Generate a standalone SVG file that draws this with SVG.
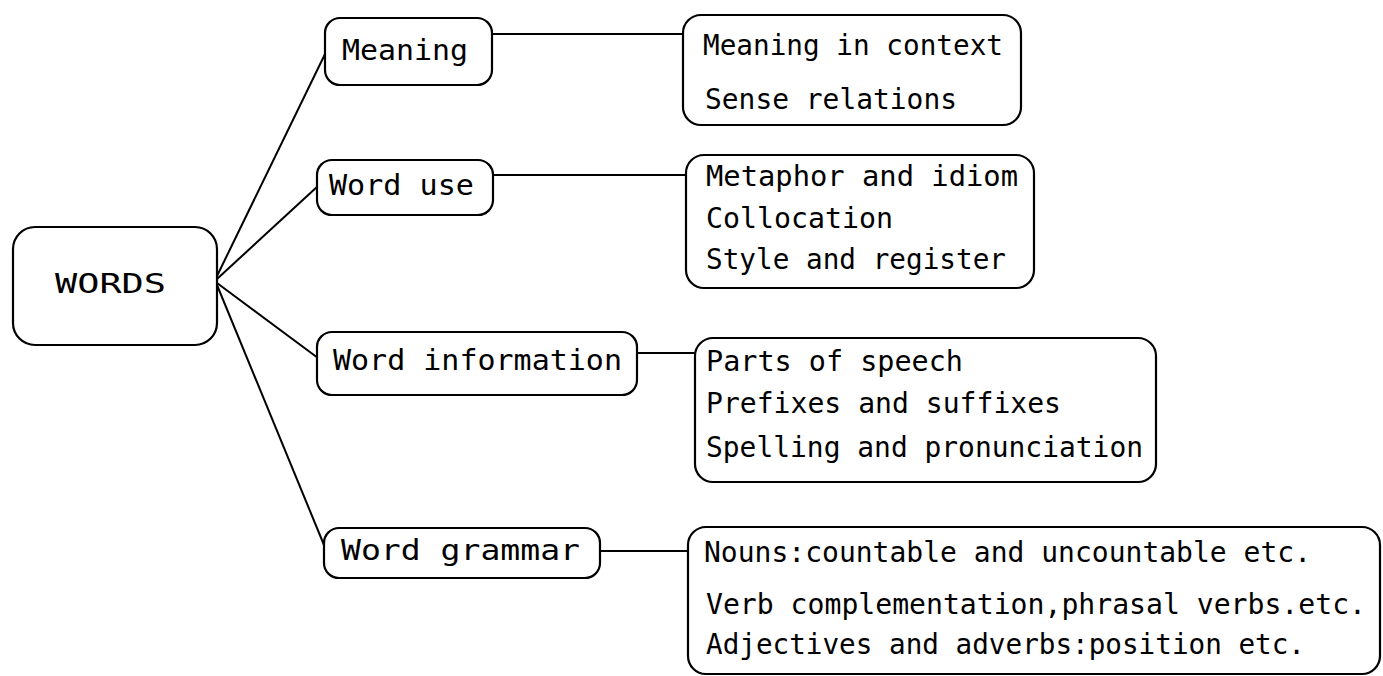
<svg xmlns="http://www.w3.org/2000/svg" width="1383" height="676" viewBox="0 0 1383 676">
<style>
.box{fill:#fff;stroke:#000;stroke-width:2.2}
.ln{stroke:#000;stroke-width:2;fill:none}
text{font-family:"DejaVu Sans Mono","Liberation Mono",monospace;font-size:29px;fill:#000}
</style>
<rect width="1383" height="676" fill="#fff"/>
<g id="connectors">
<line class="ln" x1="217" y1="276" x2="326" y2="52"/>
<line class="ln" x1="217" y1="279" x2="318" y2="186"/>
<line class="ln" x1="217" y1="283" x2="318" y2="358"/>
<line class="ln" x1="217" y1="285" x2="324" y2="545"/>
<line class="ln" x1="492" y1="34" x2="684" y2="34"/>
<line class="ln" x1="493" y1="175" x2="686" y2="175"/>
<line class="ln" x1="637" y1="353" x2="695" y2="353"/>
<line class="ln" x1="600" y1="551" x2="688" y2="551"/>
</g>
<g id="words">
<rect class="box" x="13" y="227" width="204" height="118" rx="22"/>
<text x="55" y="293" style="font-size:26px" textLength="111" lengthAdjust="spacingAndGlyphs">WORDS</text>
</g>
<g id="meaning">
<rect class="box" x="325" y="18" width="167" height="67" rx="15"/>
<text x="342" y="60" textLength="126" lengthAdjust="spacingAndGlyphs">Meaning</text>
</g>
<g id="word-use">
<rect class="box" x="317" y="160" width="176" height="55" rx="15"/>
<text x="329" y="195" textLength="145" lengthAdjust="spacingAndGlyphs">Word use</text>
</g>
<g id="word-information">
<rect class="box" x="317" y="332" width="320" height="63" rx="15"/>
<text x="333" y="370" textLength="289" lengthAdjust="spacingAndGlyphs">Word information</text>
</g>
<g id="word-grammar">
<rect class="box" x="324" y="528" width="276" height="50" rx="15"/>
<text x="341" y="560" textLength="239" lengthAdjust="spacingAndGlyphs">Word grammar</text>
</g>
<g id="meaning-items">
<rect class="box" x="683" y="15" width="338" height="110" rx="18"/>
<text x="703" y="55" textLength="300" lengthAdjust="spacingAndGlyphs">Meaning in context</text>
<text x="705" y="109" textLength="252" lengthAdjust="spacingAndGlyphs">Sense relations</text>
</g>
<g id="word-use-items">
<rect class="box" x="686" y="155" width="348" height="133" rx="18"/>
<text x="706" y="186" textLength="312" lengthAdjust="spacingAndGlyphs">Metaphor and idiom</text>
<text x="706" y="228" textLength="187" lengthAdjust="spacingAndGlyphs">Collocation</text>
<text x="706" y="269" textLength="300" lengthAdjust="spacingAndGlyphs">Style and register</text>
</g>
<g id="word-information-items">
<rect class="box" x="695" y="338" width="461" height="144" rx="18"/>
<text x="706" y="371" textLength="257" lengthAdjust="spacingAndGlyphs">Parts of speech</text>
<text x="706" y="413" textLength="355" lengthAdjust="spacingAndGlyphs">Prefixes and suffixes</text>
<text x="706" y="457" textLength="437" lengthAdjust="spacingAndGlyphs">Spelling and pronunciation</text>
</g>
<g id="word-grammar-items">
<rect class="box" x="688" y="527" width="692" height="147" rx="18"/>
<text x="704" y="562" textLength="607" lengthAdjust="spacingAndGlyphs">Nouns:countable and uncountable etc.</text>
<text x="706" y="614" style="font-size:28px" textLength="660" lengthAdjust="spacingAndGlyphs">Verb complementation,phrasal verbs.etc.</text>
<text x="706" y="654" textLength="599" lengthAdjust="spacingAndGlyphs">Adjectives and adverbs:position etc.</text>
</g>
</svg>
